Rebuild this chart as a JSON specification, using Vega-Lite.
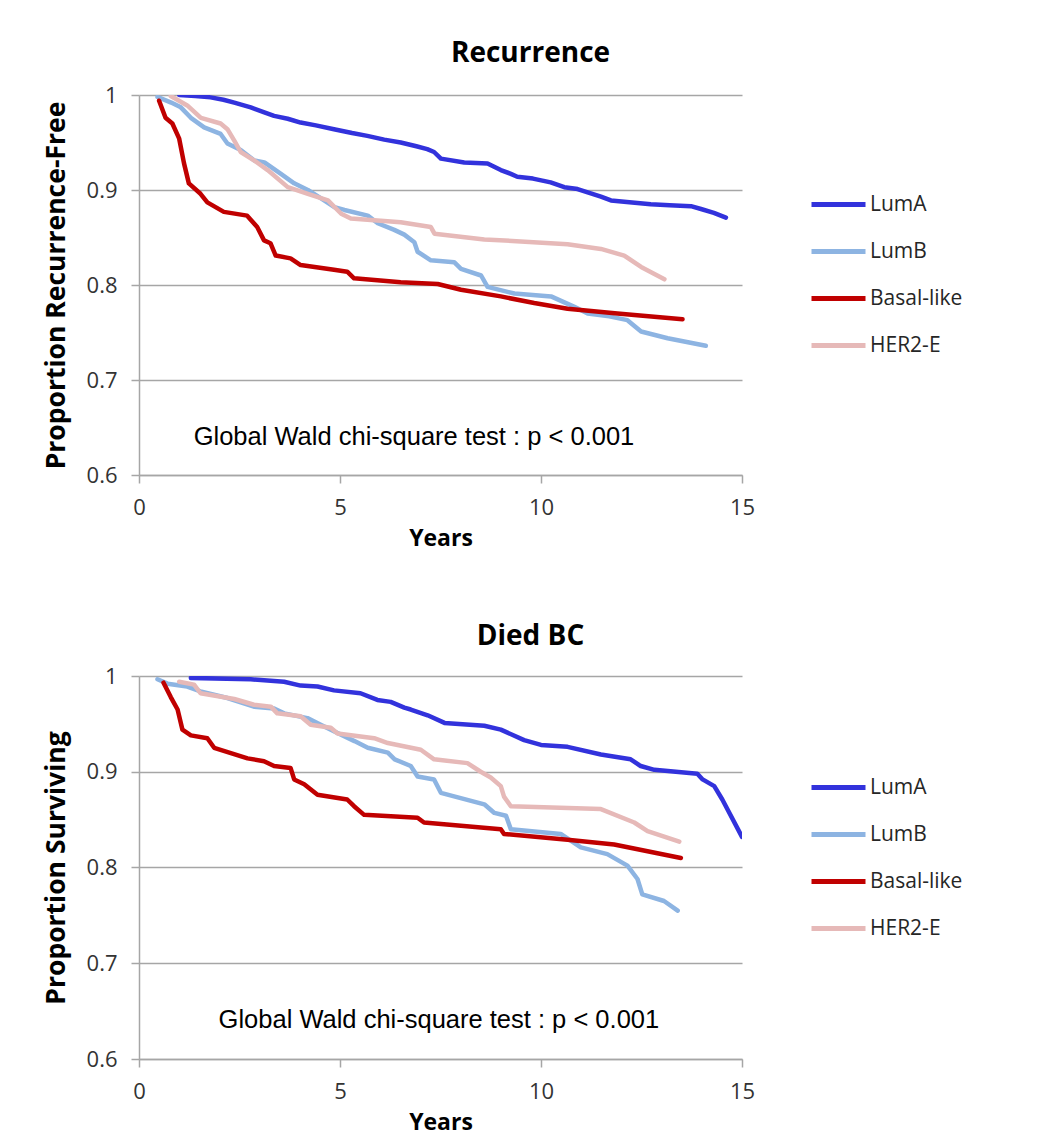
{
  "$schema": "https://vega.github.io/schema/vega-lite/v6.json",
  "background": "white",
  "padding": {"left": 43, "top": 40, "right": 0, "bottom": 10},
  "spacing": 73,
  "datasets": {
    "rec": [
      {"g":"LumA","t":1.0,"s":1.0},{"g":"LumA","t":1.4,"s":0.999},{"g":"LumA","t":1.78,"s":0.9975},{"g":"LumA","t":2.1,"s":0.995},{"g":"LumA","t":2.37,"s":0.992},{"g":"LumA","t":2.78,"s":0.987},{"g":"LumA","t":3.1,"s":0.982},{"g":"LumA","t":3.36,"s":0.978},{"g":"LumA","t":3.7,"s":0.975},{"g":"LumA","t":4.02,"s":0.971},{"g":"LumA","t":4.4,"s":0.968},{"g":"LumA","t":4.85,"s":0.964},{"g":"LumA","t":5.3,"s":0.96},{"g":"LumA","t":5.68,"s":0.957},{"g":"LumA","t":6.1,"s":0.953},{"g":"LumA","t":6.51,"s":0.95},{"g":"LumA","t":6.9,"s":0.946},{"g":"LumA","t":7.17,"s":0.943},{"g":"LumA","t":7.34,"s":0.94},{"g":"LumA","t":7.51,"s":0.933},{"g":"LumA","t":8.09,"s":0.929},{"g":"LumA","t":8.67,"s":0.928},{"g":"LumA","t":9.0,"s":0.921},{"g":"LumA","t":9.25,"s":0.917},{"g":"LumA","t":9.41,"s":0.914},{"g":"LumA","t":9.8,"s":0.912},{"g":"LumA","t":10.24,"s":0.908},{"g":"LumA","t":10.58,"s":0.903},{"g":"LumA","t":10.91,"s":0.901},{"g":"LumA","t":11.2,"s":0.897},{"g":"LumA","t":11.49,"s":0.893},{"g":"LumA","t":11.74,"s":0.889},{"g":"LumA","t":12.2,"s":0.887},{"g":"LumA","t":12.73,"s":0.885},{"g":"LumA","t":13.2,"s":0.884},{"g":"LumA","t":13.73,"s":0.883},{"g":"LumA","t":13.98,"s":0.88},{"g":"LumA","t":14.3,"s":0.876},{"g":"LumA","t":14.6,"s":0.871},
      {"g":"LumB","t":0.46,"s":0.998},{"g":"LumB","t":0.8,"s":0.992},{"g":"LumB","t":1.04,"s":0.987},{"g":"LumB","t":1.29,"s":0.976},{"g":"LumB","t":1.62,"s":0.966},{"g":"LumB","t":2.03,"s":0.959},{"g":"LumB","t":2.2,"s":0.949},{"g":"LumB","t":2.53,"s":0.942},{"g":"LumB","t":2.87,"s":0.931},{"g":"LumB","t":3.12,"s":0.929},{"g":"LumB","t":3.53,"s":0.917},{"g":"LumB","t":3.86,"s":0.907},{"g":"LumB","t":4.2,"s":0.9},{"g":"LumB","t":4.5,"s":0.892},{"g":"LumB","t":4.86,"s":0.882},{"g":"LumB","t":5.11,"s":0.879},{"g":"LumB","t":5.69,"s":0.873},{"g":"LumB","t":5.94,"s":0.865},{"g":"LumB","t":6.35,"s":0.858},{"g":"LumB","t":6.6,"s":0.853},{"g":"LumB","t":6.85,"s":0.845},{"g":"LumB","t":6.93,"s":0.835},{"g":"LumB","t":7.26,"s":0.826},{"g":"LumB","t":7.84,"s":0.824},{"g":"LumB","t":8.01,"s":0.817},{"g":"LumB","t":8.51,"s":0.81},{"g":"LumB","t":8.67,"s":0.798},{"g":"LumB","t":9.34,"s":0.791},{"g":"LumB","t":10.25,"s":0.788},{"g":"LumB","t":10.83,"s":0.777},{"g":"LumB","t":11.16,"s":0.77},{"g":"LumB","t":11.7,"s":0.767},{"g":"LumB","t":12.15,"s":0.763},{"g":"LumB","t":12.49,"s":0.751},{"g":"LumB","t":13.15,"s":0.744},{"g":"LumB","t":14.1,"s":0.736},
      {"g":"Basal-like","t":0.5,"s":0.994},{"g":"Basal-like","t":0.66,"s":0.976},{"g":"Basal-like","t":0.83,"s":0.97},{"g":"Basal-like","t":1.0,"s":0.954},{"g":"Basal-like","t":1.12,"s":0.928},{"g":"Basal-like","t":1.24,"s":0.907},{"g":"Basal-like","t":1.53,"s":0.896},{"g":"Basal-like","t":1.7,"s":0.887},{"g":"Basal-like","t":2.11,"s":0.877},{"g":"Basal-like","t":2.69,"s":0.873},{"g":"Basal-like","t":2.94,"s":0.861},{"g":"Basal-like","t":3.11,"s":0.847},{"g":"Basal-like","t":3.27,"s":0.844},{"g":"Basal-like","t":3.4,"s":0.831},{"g":"Basal-like","t":3.77,"s":0.828},{"g":"Basal-like","t":4.02,"s":0.821},{"g":"Basal-like","t":4.85,"s":0.816},{"g":"Basal-like","t":5.18,"s":0.814},{"g":"Basal-like","t":5.35,"s":0.807},{"g":"Basal-like","t":6.51,"s":0.803},{"g":"Basal-like","t":7.43,"s":0.801},{"g":"Basal-like","t":8.01,"s":0.795},{"g":"Basal-like","t":9.0,"s":0.788},{"g":"Basal-like","t":9.83,"s":0.781},{"g":"Basal-like","t":10.66,"s":0.775},{"g":"Basal-like","t":11.9,"s":0.77},{"g":"Basal-like","t":13.52,"s":0.764},
      {"g":"HER2-E","t":0.79,"s":0.999},{"g":"HER2-E","t":1.2,"s":0.989},{"g":"HER2-E","t":1.54,"s":0.976},{"g":"HER2-E","t":2.03,"s":0.97},{"g":"HER2-E","t":2.2,"s":0.964},{"g":"HER2-E","t":2.37,"s":0.952},{"g":"HER2-E","t":2.53,"s":0.94},{"g":"HER2-E","t":2.87,"s":0.931},{"g":"HER2-E","t":3.2,"s":0.921},{"g":"HER2-E","t":3.7,"s":0.903},{"g":"HER2-E","t":4.2,"s":0.896},{"g":"HER2-E","t":4.7,"s":0.889},{"g":"HER2-E","t":5.03,"s":0.875},{"g":"HER2-E","t":5.27,"s":0.87},{"g":"HER2-E","t":6.51,"s":0.866},{"g":"HER2-E","t":7.26,"s":0.861},{"g":"HER2-E","t":7.35,"s":0.854},{"g":"HER2-E","t":8.59,"s":0.848},{"g":"HER2-E","t":10.66,"s":0.843},{"g":"HER2-E","t":11.49,"s":0.838},{"g":"HER2-E","t":12.07,"s":0.831},{"g":"HER2-E","t":12.49,"s":0.819},{"g":"HER2-E","t":13.07,"s":0.806}
    ],
    "died": [
      {"g":"LumA","t":1.29,"s":0.998},{"g":"LumA","t":2.78,"s":0.9966},{"g":"LumA","t":3.61,"s":0.994},{"g":"LumA","t":4.02,"s":0.99},{"g":"LumA","t":4.44,"s":0.989},{"g":"LumA","t":4.85,"s":0.985},{"g":"LumA","t":5.51,"s":0.982},{"g":"LumA","t":5.93,"s":0.975},{"g":"LumA","t":6.26,"s":0.973},{"g":"LumA","t":6.6,"s":0.967},{"g":"LumA","t":6.76,"s":0.965},{"g":"LumA","t":7.18,"s":0.959},{"g":"LumA","t":7.6,"s":0.951},{"g":"LumA","t":8.59,"s":0.948},{"g":"LumA","t":9.0,"s":0.944},{"g":"LumA","t":9.58,"s":0.933},{"g":"LumA","t":10.0,"s":0.928},{"g":"LumA","t":10.66,"s":0.926},{"g":"LumA","t":11.49,"s":0.918},{"g":"LumA","t":12.23,"s":0.913},{"g":"LumA","t":12.48,"s":0.906},{"g":"LumA","t":12.82,"s":0.902},{"g":"LumA","t":13.89,"s":0.898},{"g":"LumA","t":14.02,"s":0.892},{"g":"LumA","t":14.31,"s":0.885},{"g":"LumA","t":14.51,"s":0.871},{"g":"LumA","t":15.0,"s":0.832},
      {"g":"LumB","t":0.46,"s":0.9966},{"g":"LumB","t":0.71,"s":0.992},{"g":"LumB","t":1.2,"s":0.989},{"g":"LumB","t":1.53,"s":0.984},{"g":"LumB","t":2.2,"s":0.977},{"g":"LumB","t":2.86,"s":0.968},{"g":"LumB","t":3.36,"s":0.966},{"g":"LumB","t":3.61,"s":0.961},{"g":"LumB","t":4.19,"s":0.956},{"g":"LumB","t":4.52,"s":0.949},{"g":"LumB","t":4.86,"s":0.942},{"g":"LumB","t":5.36,"s":0.932},{"g":"LumB","t":5.69,"s":0.925},{"g":"LumB","t":6.19,"s":0.92},{"g":"LumB","t":6.36,"s":0.913},{"g":"LumB","t":6.76,"s":0.906},{"g":"LumB","t":6.93,"s":0.895},{"g":"LumB","t":7.34,"s":0.892},{"g":"LumB","t":7.51,"s":0.878},{"g":"LumB","t":8.59,"s":0.866},{"g":"LumB","t":8.84,"s":0.857},{"g":"LumB","t":9.13,"s":0.854},{"g":"LumB","t":9.25,"s":0.84},{"g":"LumB","t":10.49,"s":0.835},{"g":"LumB","t":10.99,"s":0.821},{"g":"LumB","t":11.65,"s":0.814},{"g":"LumB","t":12.15,"s":0.802},{"g":"LumB","t":12.4,"s":0.788},{"g":"LumB","t":12.52,"s":0.772},{"g":"LumB","t":13.06,"s":0.765},{"g":"LumB","t":13.4,"s":0.755},
      {"g":"Basal-like","t":0.61,"s":0.993},{"g":"Basal-like","t":0.79,"s":0.978},{"g":"Basal-like","t":0.96,"s":0.965},{"g":"Basal-like","t":1.08,"s":0.944},{"g":"Basal-like","t":1.29,"s":0.938},{"g":"Basal-like","t":1.7,"s":0.935},{"g":"Basal-like","t":1.87,"s":0.925},{"g":"Basal-like","t":2.7,"s":0.914},{"g":"Basal-like","t":3.11,"s":0.911},{"g":"Basal-like","t":3.36,"s":0.906},{"g":"Basal-like","t":3.77,"s":0.904},{"g":"Basal-like","t":3.86,"s":0.892},{"g":"Basal-like","t":4.11,"s":0.887},{"g":"Basal-like","t":4.44,"s":0.876},{"g":"Basal-like","t":5.18,"s":0.871},{"g":"Basal-like","t":5.35,"s":0.864},{"g":"Basal-like","t":5.6,"s":0.855},{"g":"Basal-like","t":6.93,"s":0.852},{"g":"Basal-like","t":7.09,"s":0.847},{"g":"Basal-like","t":9.0,"s":0.84},{"g":"Basal-like","t":9.08,"s":0.835},{"g":"Basal-like","t":10.66,"s":0.829},{"g":"Basal-like","t":11.82,"s":0.824},{"g":"Basal-like","t":13.48,"s":0.81},
      {"g":"HER2-E","t":1.0,"s":0.994},{"g":"HER2-E","t":1.37,"s":0.991},{"g":"HER2-E","t":1.53,"s":0.982},{"g":"HER2-E","t":2.37,"s":0.976},{"g":"HER2-E","t":2.86,"s":0.97},{"g":"HER2-E","t":3.28,"s":0.968},{"g":"HER2-E","t":3.44,"s":0.961},{"g":"HER2-E","t":4.02,"s":0.958},{"g":"HER2-E","t":4.27,"s":0.949},{"g":"HER2-E","t":4.77,"s":0.946},{"g":"HER2-E","t":4.94,"s":0.94},{"g":"HER2-E","t":5.85,"s":0.935},{"g":"HER2-E","t":6.19,"s":0.93},{"g":"HER2-E","t":7.01,"s":0.923},{"g":"HER2-E","t":7.34,"s":0.913},{"g":"HER2-E","t":8.17,"s":0.909},{"g":"HER2-E","t":8.5,"s":0.9},{"g":"HER2-E","t":8.75,"s":0.894},{"g":"HER2-E","t":9.0,"s":0.885},{"g":"HER2-E","t":9.08,"s":0.874},{"g":"HER2-E","t":9.25,"s":0.864},{"g":"HER2-E","t":11.49,"s":0.861},{"g":"HER2-E","t":12.32,"s":0.847},{"g":"HER2-E","t":12.65,"s":0.838},{"g":"HER2-E","t":13.44,"s":0.827}
    ],
    "note": [{"label": "Global Wald chi-square test : p < 0.001"}]
  },
  "vconcat": [
    {
      "width": 603,
      "height": 380,
      "title": {"text": "Recurrence", "dx": 90, "offset": 16},
      "layer": [
        {
          "data": {"name": "rec"},
          "mark": {"type": "line", "strokeWidth": 4.5, "strokeCap": "round", "strokeJoin": "round", "clip": true},
          "encoding": {
            "x": {"field": "t", "type": "quantitative", "scale": {"domain": [0, 15], "nice": false}, "axis": {"title": "Years", "values": [0, 5, 10, 15], "grid": false}},
            "y": {"field": "s", "type": "quantitative", "scale": {"domain": [0.6, 1], "zero": false, "nice": false}, "axis": {"title": "Proportion Recurrence-Free", "values": [0.6, 0.7, 0.8, 0.9, 1], "format": "~g", "grid": true}},
            "color": {"field": "g", "type": "nominal", "scale": {"domain": ["LumA", "LumB", "Basal-like", "HER2-E"], "range": ["#3232DC", "#8DB4E2", "#C00000", "#E6B9B8"]}, "legend": {"title": null, "orient": "none", "legendX": 670, "legendY": 80}}
          }
        },
        {
          "data": {"name": "note"},
          "mark": {"type": "text", "font": "Liberation Sans", "fontSize": 25.5, "color": "#000000"},
          "encoding": {
            "x": {"datum": 6.84, "type": "quantitative"},
            "y": {"datum": 0.64, "type": "quantitative"},
            "text": {"field": "label"}
          }
        }
      ]
    },
    {
      "width": 603,
      "height": 383,
      "title": {"text": "Died BC", "dx": 90, "offset": 14},
      "layer": [
        {
          "data": {"name": "died"},
          "mark": {"type": "line", "strokeWidth": 4.5, "strokeCap": "round", "strokeJoin": "round", "clip": true},
          "encoding": {
            "x": {"field": "t", "type": "quantitative", "scale": {"domain": [0, 15], "nice": false}, "axis": {"title": "Years", "values": [0, 5, 10, 15], "grid": false}},
            "y": {"field": "s", "type": "quantitative", "scale": {"domain": [0.6, 1], "zero": false, "nice": false}, "axis": {"title": "Proportion Surviving", "values": [0.6, 0.7, 0.8, 0.9, 1], "format": "~g", "grid": true}},
            "color": {"field": "g", "type": "nominal", "scale": {"domain": ["LumA", "LumB", "Basal-like", "HER2-E"], "range": ["#3232DC", "#8DB4E2", "#C00000", "#E6B9B8"]}, "legend": {"title": null, "orient": "none", "legendX": 670, "legendY": 82}}
          }
        },
        {
          "data": {"name": "note"},
          "mark": {"type": "text", "font": "Liberation Sans", "fontSize": 25.5, "color": "#000000"},
          "encoding": {
            "x": {"datum": 7.46, "type": "quantitative"},
            "y": {"datum": 0.641, "type": "quantitative"},
            "text": {"field": "label"}
          }
        }
      ]
    }
  ],
  "resolve": {"scale": {"color": "independent"}, "legend": {"color": "independent"}},
  "config": {
    "view": {"stroke": null},
    "title": {"font": "Open Sans", "fontSize": 28, "fontWeight": "bold", "color": "#000000", "anchor": "middle"},
    "axis": {
      "domainColor": "#A6A6A6", "domainWidth": 1.5,
      "tickColor": "#A6A6A6", "tickWidth": 1.5, "tickSize": 8,
      "gridColor": "#A6A6A6", "gridWidth": 1.5,
      "labelFont": "Open Sans", "labelFontSize": 22, "labelColor": "#333333",
      "labelFlush": false, "labelOverlap": false, "labelBound": false,
      "titleFont": "Open Sans", "titleFontWeight": "bold", "titleColor": "#000000"
    },
    "axisX": {"labelPadding": 14, "titleFontSize": 23, "titlePadding": 9},
    "axisY": {"labelPadding": 14, "titleFontSize": 26.5, "titlePadding": 16},
    "legend": {
      "symbolType": "stroke", "symbolSize": 2916, "symbolStrokeWidth": 5,
      "labelFont": "Open Sans", "labelFontSize": 21, "labelColor": "#262626",
      "labelOffset": 2, "rowPadding": 7, "padding": 0
    }
  }
}
